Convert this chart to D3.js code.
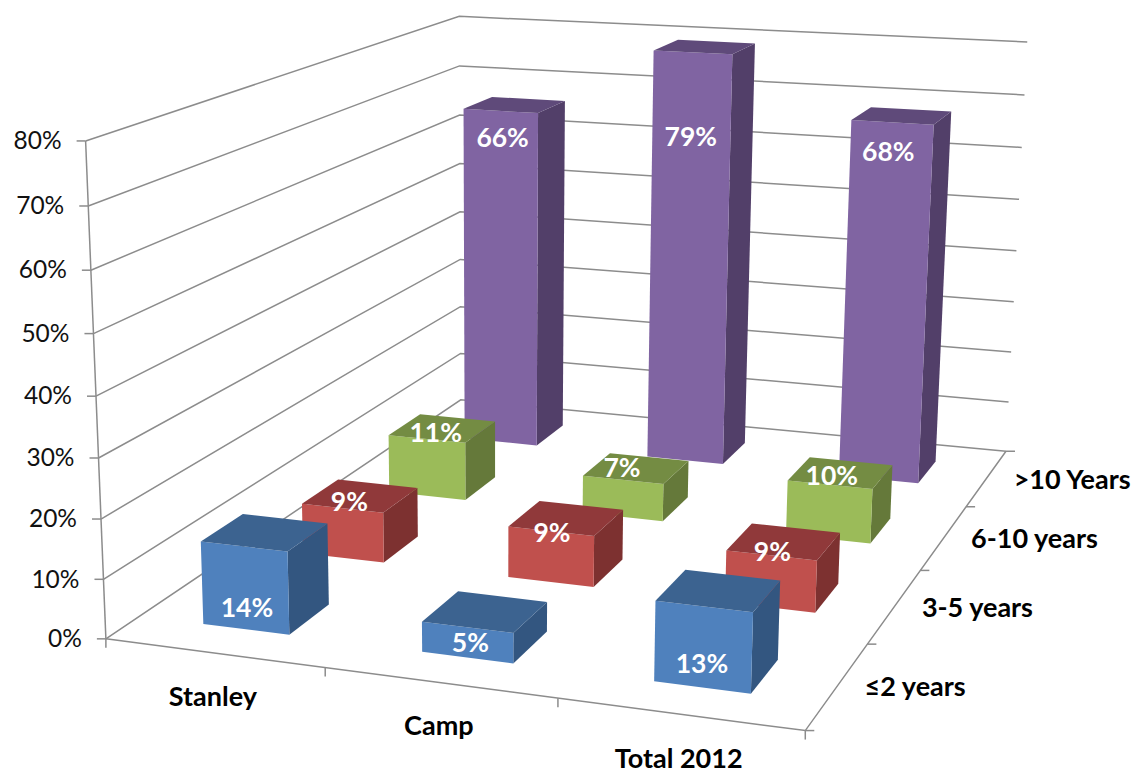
<!DOCTYPE html>
<html><head><meta charset="utf-8">
<script src="https://cdn.jsdelivr.net/npm/d3@7/dist/d3.min.js"></script>
<style>html,body{margin:0;padding:0;background:#fff}svg{display:block}text{font-family:Lato,"Open Sans",sans-serif}</style>
</head><body><svg id="c" width="1136" height="773"></svg>
<script>
const categories = ["Stanley", "Camp", "Total 2012"];
const seriesNames = ["≤2 years", "3-5 years", "6-10 years", ">10 Years"];
const valuesLe2 = [14, 5, 13];
const values3to5 = [9, 9, 9];
const values6to10 = [11, 7, 10];
const valuesOver10 = [66, 79, 68];
const seriesValues = [valuesLe2, values3to5, values6to10, valuesOver10];
const valueTicks = [0, 10, 20, 30, 40, 50, 60, 70, 80];
const faceColors = [
  {front:"#4f81bd", top:"#3c6390", side:"#335680"},
  {front:"#c0504d", top:"#90393a", side:"#7d3130"},
  {front:"#9bbb59", top:"#748c43", side:"#65793a"},
  {front:"#8064a2", top:"#5f4a7a", side:"#523f69"}
];
// label drop below the front-top edge, px, per series/category
const labelDrop = [[64,18,60],[-4,4,-1],[-4,-10,-6],[29,87,32]];
const labelShift = [[3,3,-2],[7,1,1],[9,-1,2],[2,-2,-4]];
const categoryLabelDrop = [46,45,47];

// calibration of the 3D projection: [u, v, w] in unit cube -> picture point
const calibration = [
 [0,0,0,107,637],[1,0,0,805,731],[1,1,0,1005,450],[0,1,0,460,402],
 [0,0,1,85,142],[0,1,1,460,15],[1,1,1,1027,43],
 [1/3,0,0,325,668],[2/3,0,0,557,700],
 [1,.25,0,868,644],[1,.5,0,920,570],[1,.75,0,968,506],
 [0,0,.5,96,395]
];

function solve(A,b){
  const n=b.length, M=A.map((r,i)=>[...r,b[i]]);
  for(let i=0;i<n;i++){
    let p=i; for(let k=i+1;k<n;k++) if(Math.abs(M[k][i])>Math.abs(M[p][i])) p=k;
    [M[i],M[p]]=[M[p],M[i]];
    for(let k=0;k<n;k++) if(k!==i){const f=M[k][i]/M[i][i]; for(let j=i;j<=n;j++) M[k][j]-=f*M[i][j];}
  }
  return M.map((r,i)=>r[n]/r[i]);
}
const rows=[],rhs=[];
calibration.forEach(([u,v,w,x,y])=>{
  rows.push([u,v,w,1,0,0,0,0,-x*u,-x*v,-x*w]); rhs.push(x);
  rows.push([0,0,0,0,u,v,w,1,-y*u,-y*v,-y*w]); rhs.push(y);
});
const ATA=d3.range(11).map(i=>d3.range(11).map(j=>d3.sum(rows,r=>r[i]*r[j])));
const ATb=d3.range(11).map(i=>d3.sum(rows,(r,k)=>r[i]*rhs[k]));
const P=solve(ATA,ATb);
function project(u,v,w){
  const d=P[8]*u+P[9]*v+P[10]*w+1;
  return [(P[0]*u+P[1]*v+P[2]*w+P[3])/d,(P[4]*u+P[5]*v+P[6]*w+P[7])/d];
}

const xBand=d3.scaleBand().domain(categories).range([0,1]).paddingInner(0.6).paddingOuter(0.3);
const yBand=d3.scaleBand().domain(seriesNames).range([0,1]).paddingInner(0.6).paddingOuter(0.3);
const xStep=d3.scaleBand().domain(categories).range([0,1]);
const yStep=d3.scaleBand().domain(seriesNames).range([0,1]);
const zScale=d3.scaleLinear().domain([0,80]).range([0,1]);
const line=d3.line();
const svg=d3.select("#c");
const axisColor="#8c8c8c";

const grid=svg.append("g").attr("fill","none").attr("stroke",axisColor).attr("stroke-width",1.5);
grid.selectAll("path.g").data(valueTicks).join("path").attr("class","g")
  .attr("d",t=>{const w=zScale(t);return line([project(0,0,w),project(0,1,w),project(1,1,w)]);});
grid.append("path").attr("d",line([project(0,0,0),project(0,0,1)]));
grid.append("path").attr("d",line([project(0,0,0),project(1,0,0),project(1,1,0)]));
grid.selectAll("path.vt").data(valueTicks).join("path").attr("class","vt")
  .attr("d",t=>{const p=project(0,0,zScale(t));return line([[p[0]-9,p[1]],p]);});
grid.selectAll("path.xt").data([0,...categories.map(c=>xStep(c)+xStep.bandwidth())]).join("path").attr("class","xt")
  .attr("d",u=>{const p=project(u,0,0);return line([p,[p[0],p[1]+9]]);});
grid.selectAll("path.yt").data([...seriesNames.map(s=>yStep(s)),1]).join("path").attr("class","yt")
  .attr("d",v=>{const p=project(1,v,0);return line([p,[p[0]+9,p[1]]]);});

svg.append("g").selectAll("text").data(valueTicks).join("text")
  .attr("text-anchor","end").attr("dominant-baseline","middle").attr("font-size",24.5).attr("fill","#111")
  .attr("x",t=>project(0,0,zScale(t))[0]-24).attr("y",t=>project(0,0,zScale(t))[1]+2)
  .text(t=>t+"%");
svg.append("g").selectAll("text").data(categories).join("text")
  .attr("text-anchor","middle").attr("dominant-baseline","middle").attr("font-size",27).attr("font-weight",700).attr("fill","#000")
  .attr("x",c=>project(xStep(c)+xStep.bandwidth()/2,0,0)[0]-1).attr("y",(c,i)=>project(xStep(c)+xStep.bandwidth()/2,0,0)[1]+categoryLabelDrop[i])
  .text(c=>c);
svg.append("g").selectAll("text").data(seriesNames).join("text")
  .attr("text-anchor","start").attr("dominant-baseline","middle").attr("font-size",27).attr("font-weight",700).attr("fill","#000")
  .attr("x",s=>project(1,yStep(s)+yStep.bandwidth()/2,0)[0]+27).attr("y",s=>project(1,yStep(s)+yStep.bandwidth()/2,0)[1]+4)
  .text(s=>s);

const bars=[];
seriesNames.forEach((s,si)=>categories.forEach((c,ci)=>bars.push({s,si,c,ci,v:seriesValues[si][ci]})));
bars.sort((a,b)=>b.si-a.si||a.ci-b.ci);
const poly=pts=>"M"+pts.map(p=>p.join(",")).join("L")+"Z";
const g=svg.append("g");
bars.forEach(b=>{
  const u0=xBand(b.c),u1=u0+xBand.bandwidth(),v0=yBand(b.s),v1=v0+yBand.bandwidth(),w=zScale(b.v);
  const col=faceColors[b.si];
  const bar=g.append("g");
  bar.append("path").attr("fill",col.side).attr("d",poly([project(u1,v0,0),project(u1,v1,0),project(u1,v1,w),project(u1,v0,w)]));
  bar.append("path").attr("fill",col.front).attr("d",poly([project(u0,v0,0),project(u1,v0,0),project(u1,v0,w),project(u0,v0,w)]));
  bar.append("path").attr("fill",col.top).attr("d",poly([project(u0,v0,w),project(u1,v0,w),project(u1,v1,w),project(u0,v1,w)]));
  const m=project((u0+u1)/2,v0,w);
  bar.append("text").attr("text-anchor","middle").attr("dominant-baseline","middle")
    .attr("font-size",26.5).attr("font-weight",700).attr("fill","#fff")
    .attr("x",m[0]+labelShift[b.si][b.ci]).attr("y",m[1]+labelDrop[b.si][b.ci]).text(b.v+"%");
});
</script></body></html>
